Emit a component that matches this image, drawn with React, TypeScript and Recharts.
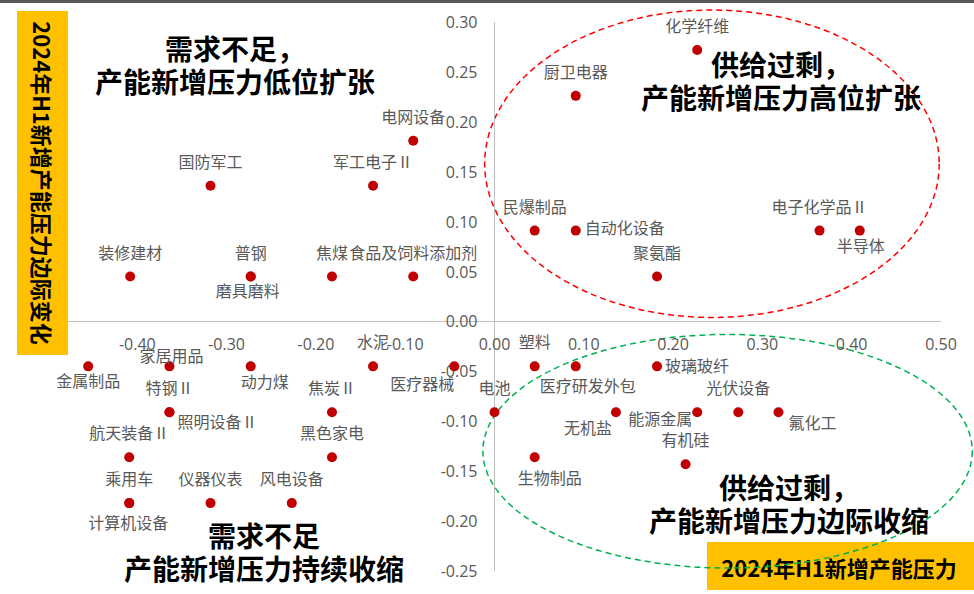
import React from 'react';
import { ScatterChart, Scatter, XAxis, YAxis, ReferenceLine, ReferenceArea } from 'recharts';

// ---------------- data ----------------
const categories = [
  '电网设备', '国防军工', '军工电子Ⅱ', '装修建材', '普钢', '磨具磨料', '焦煤', '食品及饲料添加剂',
  '化学纤维', '厨卫电器', '民爆制品', '自动化设备', '聚氨酯', '电子化学品Ⅱ', '半导体',
  '金属制品', '家居用品', '特钢Ⅱ', '照明设备Ⅱ', '动力煤', '水泥', '医疗器械', '焦炭Ⅱ', '黑色家电',
  '航天装备Ⅱ', '乘用车', '计算机设备', '仪器仪表', '风电设备',
  '电池', '塑料', '医疗研发外包', '玻璃玻纤', '无机盐', '能源金属', '光伏设备', '氟化工', '有机硅', '生物制品',
];
// 2024H1 新增产能压力
const xValues = [
  -0.091, -0.318, -0.136, -0.408, -0.273, -0.273, -0.182, -0.091,
  0.227, 0.091, 0.045, 0.091, 0.182, 0.364, 0.409,
  -0.455, -0.364, -0.364, -0.364, -0.273, -0.136, -0.045, -0.182, -0.182,
  -0.409, -0.409, -0.409, -0.318, -0.227,
  0.0, 0.045, 0.091, 0.182, 0.136, 0.227, 0.273, 0.318, 0.214, 0.045,
];
// 2024H1 新增产能压力边际变化
const yValues = [
  0.181, 0.136, 0.136, 0.045, 0.045, 0.045, 0.045, 0.045,
  0.272, 0.226, 0.091, 0.091, 0.045, 0.091, 0.091,
  -0.045, -0.045, -0.091, -0.091, -0.045, -0.045, -0.045, -0.091, -0.136,
  -0.136, -0.182, -0.182, -0.182, -0.182,
  -0.091, -0.045, -0.045, -0.045, -0.091, -0.091, -0.091, -0.091, -0.143, -0.136,
];
const xTicks = [-0.5, -0.4, -0.3, -0.2, -0.1, 0, 0.1, 0.2, 0.3, 0.4, 0.5];
const yTicks = [-0.25, -0.2, -0.15, -0.1, -0.05, 0, 0.05, 0.1, 0.15, 0.2, 0.25, 0.3];

const quadrantTitles = [
  ['需求不足，', '产能新增压力低位扩张'],
  ['供给过剩，', '产能新增压力高位扩张'],
  ['需求不足', '产能新增压力持续收缩'],
  ['供给过剩，', '产能新增压力边际收缩'],
];
const yAxisTitle = '2024年H1新增产能压力边际变化';
const xAxisTitle = '2024年H1新增产能压力';

// ---------------- styles / layout ----------------
const W = 974;
const H = 594;
const CJK = '"Noto Sans CJK SC", "Noto Sans", sans-serif';
const NUM = '"Open Sans", "Noto Sans", sans-serif';
const LABEL_COLOR = '#595959';
const DOT_COLOR = '#C00000';

type Place = [number, number, 'start' | 'middle' | 'end'];
const TOP: Place = [0, -25, 'middle'];
const labelPlacement: Record<string, Place> = {
  '磨具磨料': [-3, 13, 'middle'],
  '自动化设备': [9, -4, 'start'],
  '半导体': [1, 14, 'middle'],
  '金属制品': [0, 14, 'middle'],
  '家居用品': [2, -11, 'middle'],
  '照明设备Ⅱ': [8, 9, 'start'],
  '动力煤': [14, 15, 'middle'],
  '医疗器械': [-32, 17, 'middle'],
  '计算机设备': [-1, 19, 'middle'],
  '医疗研发外包': [12, 19, 'middle'],
  '玻璃玻纤': [8, -1, 'start'],
  '无机盐': [-28, 15, 'middle'],
  '能源金属': [-5, 6, 'end'],
  '氟化工': [10, 10, 'start'],
  '生物制品': [15, 20, 'middle'],
};

// ellipse annotations expressed as data-space bounding boxes
const redEllipse = { x1: -0.011, x2: 0.498, y1: 0.004, y2: 0.312 };
const greenEllipse = { x1: -0.013, x2: 0.535, y1: -0.247, y2: -0.013 };

const points = categories.map((name, i) => ({ name, x: xValues[i], y: yValues[i] }));
const xTickData = xTicks.map((t) => ({ x: t, y: 0, label: t.toFixed(2) }));
const yTickData = yTicks.map((t) => ({ x: 0, y: t, label: t.toFixed(2) }));

const PointShape = (props: any) => {
  const { cx, cy, payload } = props;
  const p = labelPlacement[payload.name] ?? TOP;
  return (
    <g>
      <circle cx={cx} cy={cy} r={5} fill={DOT_COLOR} />
      <text
        x={cx + p[0]}
        y={cy + p[1]}
        textAnchor={p[2]}
        dominantBaseline="central"
        fontSize={16}
        fontFamily={CJK}
        fill={LABEL_COLOR}
      >
        {payload.name}
      </text>
    </g>
  );
};

const XTickShape = (props: any) => {
  const { cx, cy, payload } = props;
  return (
    <text x={cx} y={cy + 23} textAnchor="middle" dominantBaseline="central" fontSize={16} fontFamily={NUM} fill={LABEL_COLOR}>
      {payload.label}
    </text>
  );
};

const YTickShape = (props: any) => {
  const { cx, cy, payload } = props;
  return (
    <text x={cx - 17} y={cy} textAnchor="end" dominantBaseline="central" fontSize={16} fontFamily={NUM} fill={LABEL_COLOR}>
      {payload.label}
    </text>
  );
};

const makeEllipse = (color: string) => (props: any) => {
  const { x, y, width, height } = props;
  return (
    <ellipse
      cx={x + width / 2}
      cy={y + height / 2}
      rx={Math.abs(width) / 2}
      ry={Math.abs(height) / 2}
      fill="none"
      stroke={color}
      strokeWidth={1.5}
      strokeDasharray="6 4"
    />
  );
};

const Title = ({ cx, cy, lines }: { cx: number; cy: number; lines: string[] }) => (
  <g>
    {lines.map((l, i) => (
      <text
        key={i}
        x={cx}
        y={cy + i * 33}
        textAnchor="middle"
        dominantBaseline="central"
        fontSize={28}
        fontWeight={700}
        fontFamily={CJK}
        fill="#000"
      >
        {l}
      </text>
    ))}
  </g>
);

export default function App() {
  return (
    <div style={{ position: 'absolute', left: 0, top: 0, width: W, height: H, background: '#fff', overflow: 'hidden' }}>
      {/* underlay */}
      <svg width={W} height={H} style={{ position: 'absolute', left: 0, top: 0 }}>
        <rect x={707} y={542} width={267} height={48} fill="#FFC000" />
        <text x={839} y={567} textAnchor="middle" dominantBaseline="central" fontSize={22} fontWeight={700} fontFamily={CJK} fill="#000">
          {xAxisTitle}
        </text>
      </svg>
      <div style={{ position: 'absolute', left: 0, top: 0 }}>
        <ScatterChart width={W} height={H} margin={{ top: 22, right: 33, bottom: 23, left: 48 }}>
          <XAxis type="number" dataKey="x" domain={[-0.5, 0.5]} ticks={xTicks} hide />
          <YAxis type="number" dataKey="y" domain={[-0.25, 0.3]} ticks={yTicks} hide />
          <ReferenceArea {...redEllipse} ifOverflow="visible" shape={makeEllipse('#FF0000')} />
          <ReferenceArea {...greenEllipse} ifOverflow="visible" shape={makeEllipse('#00B050')} />
          <ReferenceLine x={0} stroke="#BFBFBF" strokeWidth={1} />
          <ReferenceLine y={0} stroke="#BFBFBF" strokeWidth={1} />
          <Scatter data={xTickData} shape={XTickShape} isAnimationActive={false} />
          <Scatter data={yTickData} shape={YTickShape} isAnimationActive={false} />
          <Scatter data={points} shape={PointShape} isAnimationActive={false} />
        </ScatterChart>
      </div>
      {/* overlay */}
      <svg width={W} height={H} style={{ position: 'absolute', left: 0, top: 0, pointerEvents: 'none' }}>
        <rect x={0} y={0} width={W} height={3} fill="#595959" />
        <rect x={17} y={11} width={51} height={344} fill="#FFC000" />
        <text
          x={42.5}
          y={183}
          transform="rotate(90 42.5 183)"
          textAnchor="middle"
          dominantBaseline="central"
          fontSize={22}
          fontWeight={700}
          fontFamily={CJK}
          fill="#000"
        >
          {yAxisTitle}
        </text>
        <Title cx={235} cy={48} lines={quadrantTitles[0]} />
        <Title cx={781} cy={64} lines={quadrantTitles[1]} />
        <Title cx={264} cy={535} lines={quadrantTitles[2]} />
        <Title cx={789} cy={487} lines={quadrantTitles[3]} />
      </svg>
    </div>
  );
}
